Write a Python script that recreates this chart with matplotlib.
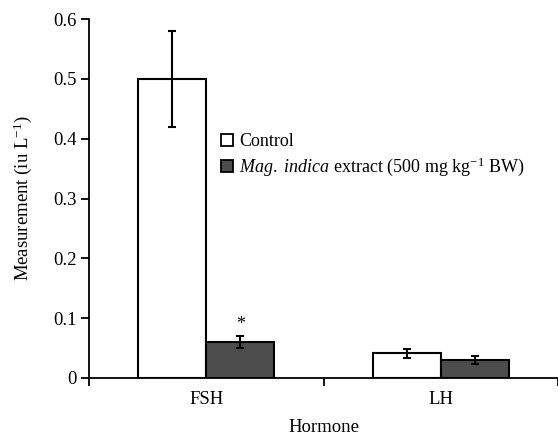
import matplotlib
matplotlib.use("Agg")
import matplotlib.pyplot as plt
import numpy as np
from matplotlib.patches import Patch

plt.rcParams['font.family'] = ['Liberation Serif', 'DejaVu Serif']
plt.rcParams['mathtext.fontset'] = 'custom'
plt.rcParams['mathtext.rm'] = 'Liberation Serif'
plt.rcParams['mathtext.it'] = 'Liberation Serif:italic'

categories = ["FSH", "LH"]
control = [0.50, 0.041]
control_err = [0.08, 0.007]
extract = [0.060, 0.030]
extract_err = [0.010, 0.007]
series_labels = ["Control", r"$\it{Mag.}$ $\it{indica}$ extract (500 mg kg$^{-1}$ BW)"]
yticks = [0, 0.1, 0.2, 0.3, 0.4, 0.5, 0.6]
ytick_labels = ["0", "0.1", "0.2", "0.3", "0.4", "0.5", "0.6"]

fig = plt.figure(figsize=(5.58, 4.37), dpi=100)
ax = fig.add_axes([89/558, 1-378/437, 1-89/558, (378-19)/437])

x = np.arange(len(categories)) + 0.5
w = 0.29
ekw = dict(elinewidth=1.5, capthick=1.5)
ax.bar(x - w/2, control, w, color="white", edgecolor="black", linewidth=1.5,
       yerr=control_err, capsize=3, error_kw=ekw, zorder=2)
ax.bar(x + w/2, extract, w, color="#4d4d4d", edgecolor="black", linewidth=1.5,
       yerr=extract_err, capsize=3, error_kw=ekw, zorder=2)

ax.text(x[0] + w/2, extract[0] + extract_err[0] + 0.006, "*", ha="center", va="bottom", fontsize=13)

ax.set_xlim(0, 2)
ax.set_ylim(0, 0.6)
ax.set_yticks(yticks)
ax.set_yticklabels(ytick_labels)
ax.set_xticks([0, 1, 2])
ax.set_xticklabels([])
ax.set_xticks(x, minor=True)
ax.set_xticklabels(categories, minor=True)
ax.tick_params(axis='x', which='minor', length=0, pad=9, labelsize=13.5)
ax.tick_params(axis='x', which='major', length=6, width=1.3, direction='out')
ax.tick_params(axis='y', length=6, width=1.3, direction='out', labelsize=13.5, pad=3)
for s in ["top", "right"]:
    ax.spines[s].set_visible(False)
for s in ["left", "bottom"]:
    ax.spines[s].set_linewidth(1.3)

ax.set_xlabel("Hormone", fontsize=13.5, labelpad=8)
ax.set_ylabel(r"Measurement (iu L$^{-1}$)", fontsize=13.5, labelpad=14)

handles = [Patch(facecolor="white", edgecolor="black", linewidth=1.3),
           Patch(facecolor="#4d4d4d", edgecolor="black", linewidth=1.3)]
fig.legend(handles, series_labels, loc="upper left", bbox_to_anchor=(221/558, 1-133/437),
           frameon=False, handlelength=0.65, handleheight=0.65, handletextpad=0.35,
           borderpad=0, borderaxespad=0, labelspacing=0.3, fontsize=13)

fig.savefig("out.png", dpi=100)
